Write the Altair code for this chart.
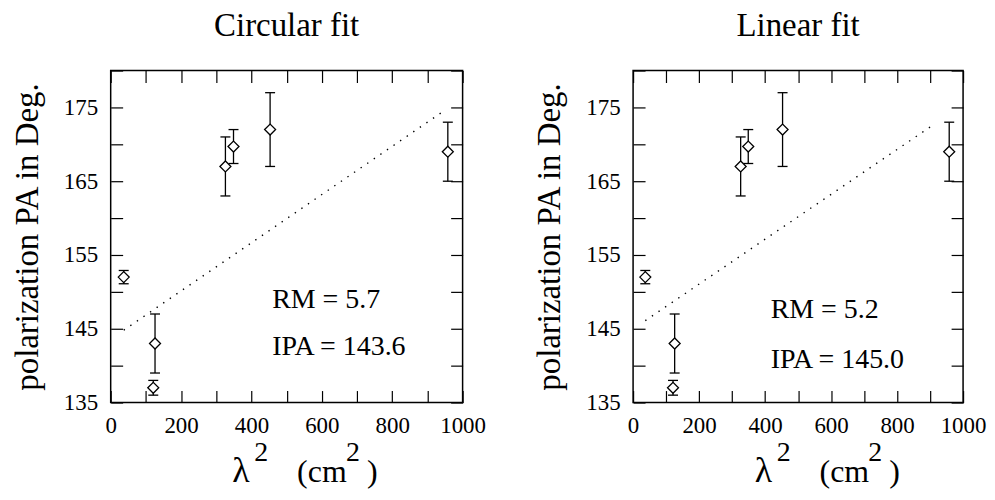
import altair as alt
import pandas as pd

# ---- data ----
lam2 = [37, 126, 121, 326, 349, 453, 958]
pa = [152, 143, 137, 167, 169.7, 172, 169]
pa_lo = [151.1, 139, 136, 163, 167.4, 167, 165]
pa_hi = [152.9, 147, 138, 171, 172, 177, 173]

panel_titles = ["Circular fit", "Linear fit"]
fit_x = [[37, 940], [37, 915]]
fit_y = [[144.8, 174.3], [146.1, 172.8]]
rm_text = ["RM = 5.7", "RM = 5.2"]
ipa_text = ["IPA = 143.6", "IPA = 145.0"]
text_x = [459, 417]
rm_y = [147.8, 146.4]
ipa_y = [141.4, 139.7]

x_ticks = list(range(0, 1001, 100))
y_ticks = list(range(135, 181, 5))

# x-axis title pieces: lambda^2 (cm^2) with large superscripts
xtitle_parts = ["λ", "2", "(cm", "2", ")"]
xtitle_is_sup = [False, True, False, True, False]

FONT = "Liberation Serif"
PANEL_W = [353, 331]
PANEL_H = 333
Y_MIN, Y_MAX = 135, 180

df = pd.DataFrame({"x": lam2, "y": pa, "lo": pa_lo, "hi": pa_hi})

xscale = alt.Scale(domain=[0, 1000], nice=False, zero=False)
yscale = alt.Scale(domain=[Y_MIN, Y_MAX], nice=False, zero=False)

common_axis = dict(
    tickSize=12, offset=-12, domain=False, grid=False, tickColor="black",
    tickWidth=1.2, labelFont=FONT, labelFontSize=23, labelColor="black",
    labelOverlap=False, labelFlush=False, titleFont=FONT, titleColor="black",
    titleFontWeight="normal", minExtent=0,
)

# pixel offsets (from the frame's left edge) of the x-title pieces
XT_OFF = [122, 144, 187, 236, 257]


def panel(i):
    w = PANEL_W[i]
    ppu = PANEL_H / (Y_MAX - Y_MIN)  # pixels per y unit
    x_bottom = alt.Axis(
        orient="bottom", values=x_ticks, format="d",
        labelExpr="datum.value % 200 == 0 ? datum.label : ''",
        labelPadding=12, title=None, **common_axis,
    )
    y_left = alt.Axis(
        orient="left", values=y_ticks,
        labelExpr="(datum.value - 135) % 10 == 0 ? datum.label : ''",
        labelPadding=13, title="polarization PA in Deg.", titleFontSize=33,
        titlePadding=19, **common_axis,
    )
    x_top = alt.Axis(orient="top", values=x_ticks, labels=False, title=None,
                     maxExtent=0, **common_axis)
    y_right = alt.Axis(orient="right", values=y_ticks, labels=False, title=None,
                       maxExtent=0, **common_axis)

    bars = alt.Chart(df).mark_rule(color="black", strokeWidth=1.3).encode(
        x=alt.X("x:Q", scale=xscale, axis=x_bottom),
        y=alt.Y("lo:Q", scale=yscale, axis=y_left),
        y2="hi:Q",
    )
    cap_lo = alt.Chart(df).mark_tick(orient="horizontal", size=10, thickness=1.3,
                                     color="black", opacity=1).encode(
        x=alt.X("x:Q", scale=xscale, axis=None),
        y=alt.Y("lo:Q", scale=yscale, axis=None),
    )
    cap_hi = alt.Chart(df).mark_tick(orient="horizontal", size=10, thickness=1.3,
                                     color="black", opacity=1).encode(
        x=alt.X("x:Q", scale=xscale, axis=None),
        y=alt.Y("hi:Q", scale=yscale, axis=None),
    )
    points = alt.Chart(df).mark_point(
        shape="diamond", size=121, filled=True, fill="white", stroke="black",
        strokeWidth=1.3, opacity=1,
    ).encode(
        x=alt.X("x:Q", scale=xscale, axis=x_top),
        y=alt.Y("y:Q", scale=yscale, axis=y_right),
    )
    fit_df = pd.DataFrame({"x": fit_x[i], "y": fit_y[i]})
    fit = alt.Chart(fit_df).mark_line(
        color="black", strokeWidth=1.4, strokeDash=[1.4, 6.6]
    ).encode(
        x=alt.X("x:Q", scale=xscale, axis=None),
        y=alt.Y("y:Q", scale=yscale, axis=None),
    )
    txt_df = pd.DataFrame({
        "x": [text_x[i], text_x[i]],
        "y": [rm_y[i], ipa_y[i]],
        "t": [rm_text[i], ipa_text[i]],
    })
    texts = alt.Chart(txt_df).mark_text(
        align="left", baseline="alphabetic", font=FONT, fontSize=28,
        color="black",
    ).encode(
        x=alt.X("x:Q", scale=xscale, axis=None),
        y=alt.Y("y:Q", scale=yscale, axis=None),
        text="t:N",
    )

    # panel title as a text placed above the frame
    title = alt.Chart().mark_text(
        text=panel_titles[i], align="center", baseline="alphabetic", font=FONT,
        fontSize=33, color="black",
    ).encode(
        x=alt.X(datum=500, scale=xscale, axis=None),
        y=alt.Y(datum=Y_MAX + 35 / ppu, scale=yscale, axis=None),
    )

    # x-axis title built from text pieces placed below the frame
    main_y = Y_MIN - 80 / ppu
    sup_y = Y_MIN - 59 / ppu
    layers = [fit, bars, cap_lo, cap_hi, points, texts, title]
    for part, sup, off in zip(xtitle_parts, xtitle_is_sup, XT_OFF):
        size = 28 if sup else (36 if part == "λ" else 32)
        layers.append(
            alt.Chart().mark_text(
                text=part, align="left", baseline="alphabetic", font=FONT,
                fontSize=size, color="black",
            ).encode(
                x=alt.X(datum=off / w * 1000, scale=xscale, axis=None),
                y=alt.Y(datum=sup_y if sup else main_y, scale=yscale, axis=None),
            )
        )

    return alt.layer(*layers).resolve_axis(
        x="independent", y="independent"
    ).properties(width=w, height=PANEL_H)


chart = alt.hconcat(panel(0), panel(1), spacing=46).properties(
    padding={"left": 2, "top": 0, "right": 0, "bottom": 0}
).configure_view(stroke="black", strokeWidth=1.5)

chart.save("out.html", embed_options={"renderer": "svg", "actions": False})
